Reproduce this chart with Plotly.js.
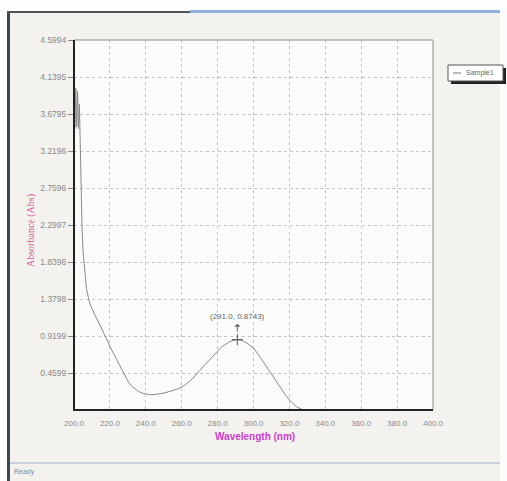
<!DOCTYPE html>
<html>
<head>
<meta charset="utf-8">
<script src="https://cdn.plot.ly/plotly-3.0.1.min.js"></script>
<style>
html,body{margin:0;padding:0;background:#f3f2ee;}
#chart{width:507px;height:481px;}
</style>
</head>
<body>
<div id="chart"></div>
<script>
// ---- data ----
const wavelength = [200.0, 200.5, 201.0, 201.5, 202.0, 202.5, 203.0, 203.5, 204.0, 204.5, 205.0, 206.0, 207.0, 208.0, 209.0, 210.0, 212.0, 214.0, 216.0, 218.0, 220.0, 222.0, 224.0, 226.0, 228.0, 230.0, 232.0, 234.0, 236.0, 238.0, 240.0, 242.0, 244.0, 246.0, 248.0, 250.0, 254.0, 258.0, 262.0, 266.0, 270.0, 274.0, 278.0, 282.0, 286.0, 288.0, 291.0, 294.0, 297.0, 300.0, 303.0, 306.0, 309.0, 312.0, 315.0, 318.0, 321.0, 324.0, 327.0, 330.0];
const absorbance = [4.02, 3.50, 4.00, 3.52, 3.96, 3.50, 3.80, 3.20, 2.65, 2.25, 1.98, 1.68, 1.50, 1.40, 1.31, 1.26, 1.17, 1.09, 0.99, 0.89, 0.79, 0.70, 0.62, 0.53, 0.44, 0.36, 0.30, 0.26, 0.23, 0.21, 0.20, 0.19, 0.19, 0.195, 0.20, 0.21, 0.235, 0.265, 0.31, 0.39, 0.49, 0.59, 0.69, 0.78, 0.84, 0.86, 0.8743, 0.86, 0.82, 0.77, 0.68, 0.58, 0.47, 0.37, 0.27, 0.18, 0.10, 0.04, 0.005, 0.0];
const seriesName = "Sample1";
const peakX = [291.0];
const peakY = [0.8743];
const xTickVals = [200, 220, 240, 260, 280, 300, 320, 340, 360, 380, 400];
const xTickText = ["200.0", "220.0", "240.0", "260.0", "280.0", "300.0", "320.0", "340.0", "360.0", "380.0", "400.0"];
const yTickVals = [0.4599, 0.9199, 1.3798, 1.8398, 2.2997, 2.7596, 3.2196, 3.6795, 4.1395, 4.5994];
const yTickText = ["0.4599", "0.9199", "1.3798", "1.8396", "2.2997", "2.7596", "3.2196", "3.6795", "4.1395", "4.5994"];
const xTitle = "Wavelength (nm)";
const yTitle = "Absorbance (Abs)";
const statusText = "Ready";

// ---- layout geometry (pixels) ----
const W = 507, H = 481;
const L = 74, R = 433, T = 40, B = 410;
const px = x => (x - L) / (R - L);
const py = y => (B - y) / (B - T);

const font = "Liberation Sans, Arial, sans-serif";

const traces = [
  {
    x: wavelength, y: absorbance, type: "scatter", mode: "lines",
    name: seriesName, line: {color: "#8a8a8a", width: 1}, hoverinfo: "x+y"
  },
  {
    x: peakX, y: peakY, type: "scatter", mode: "markers",
    marker: {symbol: "cross-thin", size: 8, line: {color: "#555", width: 1}},
    showlegend: false, hoverinfo: "skip"
  }
];

function prect(x0, y0, x1, y1, fill, line) {
  return {type: "rect", xref: "paper", yref: "paper", x0: px(x0), x1: px(x1), y0: py(y1), y1: py(y0),
          fillcolor: fill, line: line || {width: 0}, layer: "below"};
}
function pline(x0, y0, x1, y1, color, width, layer) {
  return {type: "line", xref: "paper", yref: "paper", x0: px(x0), x1: px(x1), y0: py(y0), y1: py(y1),
          line: {color: color, width: width}, layer: layer || "above"};
}

const shapes = [
  // window chrome
  prect(0, 0, W, 11, "#fdfdfd"),
  prect(0, 0, 7, H, "#fdfdfd"),
  prect(7, 11, 10, H, "#3d4753"),
  prect(7, 11, 190, 13, "#4e545a"),
  prect(190, 10, 500, 13, "#8fb0d6"),
  prect(500, 10, W, H, "#fbfbfb"),
  prect(10, 462, 500, 464, "#c9d1de"),
  prect(10, 464, 500, H, "#f4f2ef"),
  // plot frame
  pline(L, T, R, T, "#8c8c8c", 1),
  pline(R, T, R, B, "#8c8c8c", 1),
  pline(L, T, L, B + 1, "#222", 2),
  pline(L - 1, B, R, B, "#222", 2),
  // legend box with shadow
  {type: "rect", xref: "paper", yref: "paper", x0: px(451), x1: px(506), y0: py(84), y1: py(68),
   fillcolor: "#222", line: {width: 0}, layer: "above"},
  {type: "rect", xref: "paper", yref: "paper", x0: px(448), x1: px(503), y0: py(81), y1: py(65),
   fillcolor: "#ffffff", line: {color: "#555", width: 1}, layer: "above"},
  pline(453, 73, 461, 73, "#777", 1)
];

const annotations = [
  {x: peakX[0], y: peakY[0], xref: "x", yref: "y",
   text: "(" + peakX[0].toFixed(1) + ", " + peakY[0].toFixed(4) + ")",
   showarrow: true, ax: 0, ay: -23, arrowhead: 1, arrowsize: 0.6, arrowwidth: 1, arrowcolor: "#666",
   arrowside: "start", standoff: 8, startstandoff: 1, font: {family: font, size: 8, color: "#666"}},
  {x: px(255), y: py(437), xref: "paper", yref: "paper", xanchor: "center", yanchor: "middle",
   text: "<b>" + xTitle + "</b>",
   showarrow: false, font: {family: font, size: 10, color: "#cc3fcc"}},
  {x: px(31), y: py(231), xref: "paper", yref: "paper", xanchor: "center", yanchor: "middle",
   text: yTitle, textangle: -90,
   showarrow: false, font: {family: "Liberation Serif, serif", size: 10, color: "#e0569b"}},
  {x: px(464), y: py(73), xref: "paper", yref: "paper", text: seriesName, xanchor: "left", yanchor: "middle",
   showarrow: false, font: {family: font, size: 7, color: "#666"}},
  {x: px(12), y: py(472), xref: "paper", yref: "paper", text: statusText, xanchor: "left", yanchor: "middle",
   showarrow: false, font: {family: font, size: 7, color: "#7d8aa5"}}
];

const layout = {
  width: W, height: H,
  margin: {l: L, r: W - R, t: T, b: H - B, pad: 0},
  paper_bgcolor: "#f3f2ee",
  plot_bgcolor: "#fbfbf9",
  showlegend: false,
  xaxis: {
    range: [200, 400], tickvals: xTickVals, ticktext: xTickText,
    showgrid: true, gridcolor: "#c4c4c4", griddash: "dot", gridwidth: 1,
    zeroline: false, showline: false, ticks: "", ticklabelstandoff: 7,
    tickfont: {family: font, size: 8, color: "#8a8a8a"}, fixedrange: true
  },
  yaxis: {
    range: [0, 4.5994], tickvals: yTickVals, ticktext: yTickText,
    showgrid: true, gridcolor: "#c4c4c4", griddash: "dot", gridwidth: 1,
    zeroline: false, showline: false, ticks: "outside", ticklen: 5, tickcolor: "#888",
    tickfont: {family: font, size: 8.5, color: "#8a8a8a"}, fixedrange: true
  },
  shapes: shapes,
  annotations: annotations
};

Plotly.newPlot("chart", traces, layout, {displayModeBar: false, staticPlot: true});
</script>
</body>
</html>
